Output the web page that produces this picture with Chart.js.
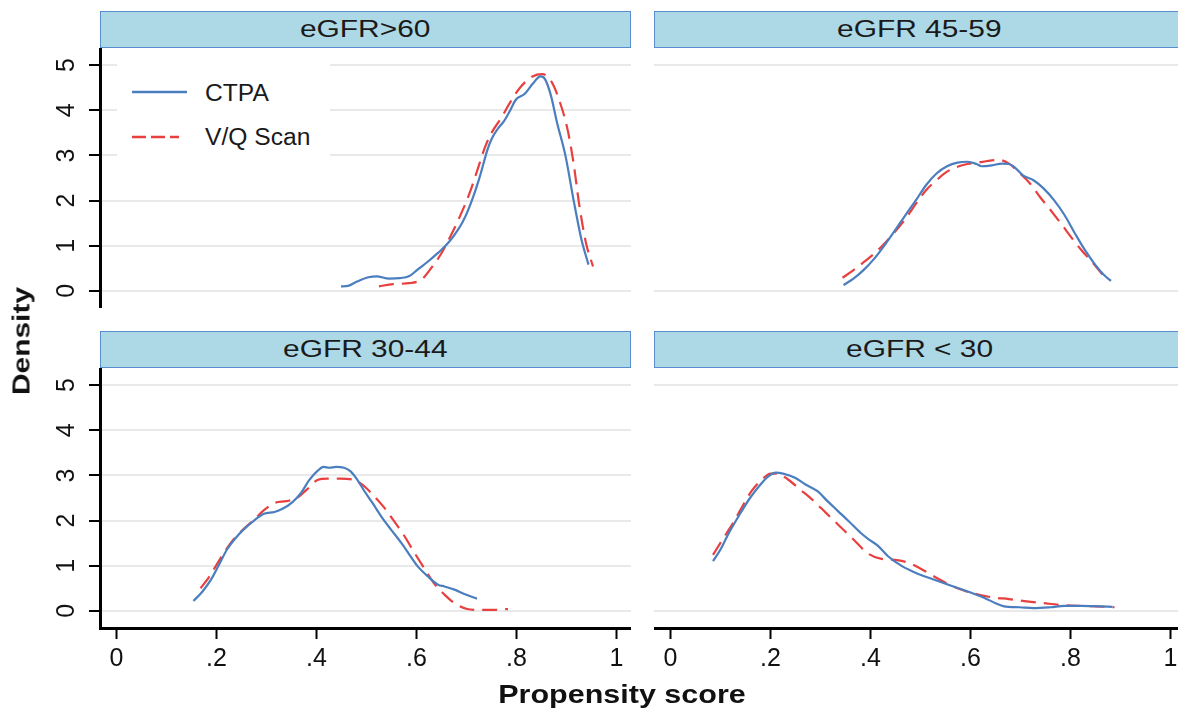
<!DOCTYPE html>
<html>
<head>
<meta charset="utf-8">
<script src="https://cdn.jsdelivr.net/npm/chart.js@4"></script>
<style>
  html, body { margin: 0; padding: 0; background: #fff; }
  #fig { position: relative; width: 1178px; height: 720px; overflow: hidden; font-family: "Liberation Sans", Arial, sans-serif; color: #1a1a1a; }
  canvas { position: absolute; }
  .strip { position: absolute; box-sizing: border-box; height: 37px; width: 531px; background: #add8e6; border: 1.5px solid #5a8dce; display: flex; align-items: center; justify-content: center; }
  .strip span { display: inline-block; font-size: 23px; transform: scaleX(1.3); }
  .legend { position: absolute; left: 117px; top: 58px; width: 213px; height: 110px; background: #fff; }
  .legend svg { position: absolute; left: 0; top: 0; }
  .legend .lab { position: absolute; left: 88px; font-size: 23px; line-height: 26px; transform: scaleX(1.07); transform-origin: left center; }
  .title { position: absolute; font-weight: bold; white-space: nowrap; color: #111; }
</style>
</head>
<body>
<div id="fig">
  <div class="strip" style="left:100px;top:11px"><span>eGFR&gt;60</span></div>
  <div class="strip" style="left:654px;top:11px"><span>eGFR 45-59</span></div>
  <div class="strip" style="left:100px;top:331px"><span>eGFR 30-44</span></div>
  <div class="strip" style="left:654px;top:331px"><span>eGFR &lt; 30</span></div>

  <canvas id="p1" width="631" height="260" style="left:0;top:48px"></canvas>
  <canvas id="p2" width="531" height="260" style="left:654px;top:48px"></canvas>
  <canvas id="p3" width="631" height="352" style="left:0;top:368px"></canvas>
  <canvas id="p4" width="531" height="352" style="left:654px;top:368px"></canvas>

  <div class="legend">
    <svg width="80" height="110">
      <line x1="15" y1="34" x2="70" y2="34" stroke="#4a7ebf" stroke-width="2.5"/>
      <line x1="15" y1="79" x2="62" y2="79" stroke="#e8403f" stroke-width="2.5" stroke-dasharray="14 5"/>
    </svg>
    <div class="lab" style="top:22px">CTPA</div>
    <div class="lab" style="top:66px">V/Q Scan</div>
  </div>

  <div class="title" style="left:22px;top:341px;font-size:23px;transform:translate(-50%,-50%) rotate(-90deg) scaleX(1.3)">Density</div>
  <div class="title" style="left:622px;top:694px;font-size:25px;transform:translate(-50%,-50%) scaleX(1.22)">Propensity score</div>
</div>

<script>
const xTicks = [0, 0.2, 0.4, 0.6, 0.8, 1];
const xTickLabels = ["0", ".2", ".4", ".6", ".8", "1"];
const yTicks = [0, 1, 2, 3, 4, 5];
const yTickLabels = ["0", "1", "2", "3", "4", "5"];
const rightGridLevels = [0, 5];

// eGFR>60
const ctpaGt60 = [[0.449,0.10],[0.463,0.11],[0.48,0.2],[0.504,0.30],[0.52,0.32],[0.545,0.27],[0.566,0.28],[0.586,0.33],[0.602,0.47],[0.623,0.65],[0.643,0.84],[0.66,1.02],[0.676,1.24],[0.693,1.54],[0.709,1.95],[0.725,2.47],[0.742,3.13],[0.75,3.36],[0.762,3.58],[0.775,3.76],[0.787,3.99],[0.799,4.24],[0.816,4.36],[0.832,4.58],[0.848,4.75],[0.857,4.69],[0.869,4.32],[0.881,3.73],[0.898,2.99],[0.914,2.02],[0.930,1.13],[0.944,0.58]];
const vqGt60 = [[0.525,0.10],[0.553,0.15],[0.586,0.17],[0.611,0.26],[0.627,0.47],[0.648,0.80],[0.668,1.21],[0.684,1.58],[0.705,2.13],[0.721,2.65],[0.738,3.21],[0.75,3.5],[0.770,3.84],[0.787,4.17],[0.807,4.5],[0.832,4.75],[0.852,4.8],[0.869,4.65],[0.885,4.24],[0.902,3.58],[0.914,2.84],[0.926,1.87],[0.939,1.06],[0.953,0.54]];

// eGFR 45-59
const ctpa4559 = [[0.346,0.13],[0.366,0.27],[0.387,0.47],[0.408,0.72],[0.428,1.01],[0.449,1.34],[0.47,1.68],[0.491,2.01],[0.511,2.34],[0.532,2.6],[0.553,2.76],[0.574,2.84],[0.594,2.86],[0.612,2.81],[0.622,2.76],[0.643,2.78],[0.663,2.82],[0.677,2.81],[0.691,2.71],[0.705,2.56],[0.726,2.45],[0.746,2.27],[0.767,2.01],[0.788,1.68],[0.809,1.27],[0.829,0.9],[0.85,0.57],[0.867,0.35],[0.881,0.22]];
const vq4559 = [[0.344,0.29],[0.366,0.46],[0.387,0.64],[0.408,0.83],[0.428,1.05],[0.449,1.31],[0.47,1.6],[0.491,1.93],[0.511,2.23],[0.532,2.45],[0.553,2.64],[0.574,2.75],[0.594,2.81],[0.615,2.84],[0.636,2.88],[0.657,2.9],[0.677,2.82],[0.698,2.61],[0.719,2.38],[0.739,2.08],[0.76,1.79],[0.781,1.49],[0.802,1.18],[0.822,0.9],[0.843,0.64],[0.867,0.32]];

// eGFR 30-44
const ctpa3044 = [[0.154,0.22],[0.172,0.43],[0.189,0.69],[0.205,1.02],[0.221,1.36],[0.238,1.61],[0.254,1.8],[0.275,2.0],[0.295,2.15],[0.316,2.19],[0.332,2.26],[0.352,2.41],[0.369,2.61],[0.385,2.89],[0.402,3.1],[0.414,3.19],[0.426,3.17],[0.439,3.19],[0.455,3.17],[0.467,3.1],[0.48,2.93],[0.496,2.65],[0.512,2.39],[0.529,2.1],[0.549,1.8],[0.57,1.5],[0.586,1.24],[0.602,0.99],[0.623,0.76],[0.643,0.58],[0.656,0.54],[0.676,0.47],[0.697,0.37],[0.721,0.27]];
const vq3044 = [[0.168,0.5],[0.184,0.73],[0.2,1.02],[0.217,1.32],[0.234,1.58],[0.254,1.81],[0.275,2.02],[0.295,2.23],[0.316,2.39],[0.34,2.43],[0.361,2.5],[0.381,2.69],[0.402,2.9],[0.422,2.93],[0.447,2.93],[0.471,2.91],[0.492,2.79],[0.512,2.58],[0.533,2.32],[0.553,2.02],[0.574,1.69],[0.594,1.32],[0.615,0.95],[0.635,0.61],[0.656,0.36],[0.676,0.17],[0.701,0.04],[0.725,0.02],[0.75,0.02],[0.783,0.04]];

// eGFR < 30
const ctpaLt30 = [[0.085,1.1],[0.1,1.36],[0.117,1.73],[0.138,2.13],[0.159,2.5],[0.18,2.8],[0.197,2.99],[0.211,3.06],[0.225,3.04],[0.249,2.95],[0.27,2.8],[0.294,2.65],[0.314,2.43],[0.335,2.21],[0.356,1.99],[0.38,1.73],[0.397,1.58],[0.415,1.44],[0.435,1.21],[0.463,0.99],[0.491,0.84],[0.525,0.7],[0.56,0.56],[0.594,0.43],[0.629,0.28],[0.65,0.17],[0.667,0.1],[0.698,0.08],[0.726,0.06],[0.76,0.08],[0.788,0.11],[0.822,0.11],[0.857,0.1],[0.884,0.09]];
const vqLt30 = [[0.085,1.24],[0.104,1.58],[0.121,1.87],[0.142,2.28],[0.162,2.65],[0.183,2.91],[0.2,3.04],[0.214,3.04],[0.235,2.91],[0.259,2.69],[0.283,2.47],[0.311,2.17],[0.339,1.87],[0.366,1.58],[0.394,1.28],[0.422,1.15],[0.449,1.13],[0.477,1.06],[0.504,0.91],[0.539,0.69],[0.574,0.5],[0.608,0.38],[0.643,0.3],[0.677,0.26],[0.712,0.21],[0.746,0.17],[0.781,0.13],[0.816,0.11],[0.85,0.1],[0.888,0.08]];

const BLUE = "#4a7ebf";
const RED = "#e8403f";
const GRID = "#e9e9e9";
const TICK_FONT = { family: "'Liberation Sans', Arial, sans-serif", size: 25 };

Chart.defaults.color = "#111";

const toPts = (arr) => arr.map(([x, y]) => ({ x, y }));

// keep label overhang from shrinking the plot area
const noPad = (s) => { s.paddingTop = 0; s.paddingBottom = 0; s.paddingLeft = 0; s.paddingRight = 0; };

function panel(id, ctpa, vq, showX, showY) {
  new Chart(document.getElementById(id), {
    type: "line",
    data: {
      datasets: [
        { label: "CTPA", data: toPts(ctpa), borderColor: BLUE, borderWidth: 2.2 },
        { label: "V/Q Scan", data: toPts(vq), borderColor: RED, borderWidth: 2.2, borderDash: [15, 8] },
      ],
    },
    options: {
      responsive: false,
      animation: false,
      layout: { padding: 0 },
      elements: { point: { radius: 0 }, line: { cubicInterpolationMode: "monotone" } },
      plugins: { legend: { display: false }, tooltip: { enabled: false } },
      scales: {
        x: {
          type: "linear",
          min: -0.033,
          max: 1.029,
          display: showX,
          afterBuildTicks: (s) => { s.ticks = xTicks.map((v) => ({ value: v })); },
          afterFit: (s) => { s.height = showX ? 92 : 0; noPad(s); },
          ticks: { font: TICK_FONT, padding: 5, maxRotation: 0, callback: (v) => xTickLabels[xTicks.indexOf(v)] },
          grid: { drawOnChartArea: false, drawTicks: true, tickLength: 11, tickColor: "#000", tickWidth: 2 },
          border: { display: true, color: "#000", width: 3 },
        },
        y: {
          type: "linear",
          min: -0.38,
          max: 5.38,
          afterBuildTicks: (s) => { s.ticks = yTicks.map((v) => ({ value: v })); },
          afterFit: (s) => { s.width = showY ? 100 : 0; noPad(s); },
          ticks: {
            display: showY,
            font: TICK_FONT,
            padding: 15,
            minRotation: 90,
            maxRotation: 90,
            crossAlign: "center",
            callback: (v) => yTickLabels[yTicks.indexOf(v)],
          },
          grid: {
            color: (c) => (showY || rightGridLevels.includes(c.tick && c.tick.value) ? GRID : "rgba(0,0,0,0)"),
            lineWidth: 2,
            drawTicks: showY,
            tickLength: 11,
            tickColor: "#000",
            tickWidth: 2,
          },
          border: { display: showY, color: "#000", width: 3 },
        },
      },
    },
  });
}

panel("p1", ctpaGt60, vqGt60, false, true);
panel("p2", ctpa4559, vq4559, false, false);
panel("p3", ctpa3044, vq3044, true, true);
panel("p4", ctpaLt30, vqLt30, true, false);
</script>
</body>
</html>
